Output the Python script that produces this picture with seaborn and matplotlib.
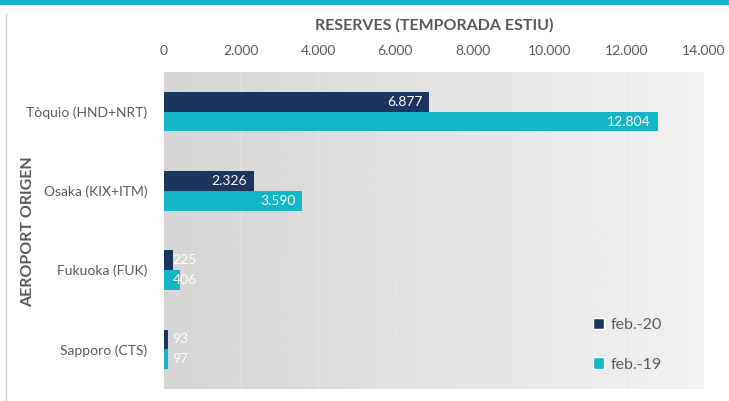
import numpy as np
import pandas as pd
import matplotlib
matplotlib.use("Agg")
import matplotlib.pyplot as plt
from matplotlib.patches import Rectangle, Patch
from matplotlib.lines import Line2D
import seaborn as sns

# data
airports = ["Tòquio (HND+NRT)", "Osaka (KIX+ITM)", "Fukuoka (FUK)", "Sapporo (CTS)"]
periods = ["feb.-20", "feb.-19"]
feb20 = [6877, 2326, 225, 93]
feb19 = [12804, 3590, 406, 97]
x_ticks = [0, 2000, 4000, 6000, 8000, 10000, 12000, 14000]

navy = "#1b365d"
teal = "#12b6c4"
grey_txt = "#595959"

df = pd.DataFrame({
    "aeroport": airports * 2,
    "periode": [periods[0]] * 4 + [periods[1]] * 4,
    "reserves": feb20 + feb19,
})

sns.set_style("white")
plt.rcParams["font.family"] = ["Lato", "DejaVu Sans"]

fig = plt.figure(figsize=(7.29, 4.01), dpi=100)
ax = fig.add_axes([164 / 729, 1 - 389 / 401, 540 / 729, 317 / 401])

# gradient background of the plot area
grad = np.linspace(0.835, 0.945, 256).reshape(1, -1)
ax.imshow(grad, cmap="gray", vmin=0, vmax=1, aspect="auto",
          extent=[0, 14000, 3.5, -0.5], zorder=0)

sns.barplot(data=df, x="reserves", y="aeroport", hue="periode", orient="h",
            palette=[navy, teal], width=0.5, saturation=1, linewidth=0,
            legend=False, ax=ax, zorder=3)

ax.set_xlim(0, 14000)
ax.set_ylim(3.5, -0.5)
ax.set_xticks(x_ticks)
ax.set_xticklabels([f"{v:,}".replace(",", ".") for v in x_ticks])
ax.xaxis.tick_top()
ax.xaxis.set_label_position("top")
ax.tick_params(axis="both", length=0, labelsize=10, colors=grey_txt)
ax.tick_params(axis="x", pad=11)
ax.tick_params(axis="y", pad=12)
for s in ax.spines.values():
    s.set_visible(False)
ax.grid(False)
for t in x_ticks[1:-1]:
    ax.axvline(t, color="#e6e6e6", lw=0.8, zorder=1)

ax.set_xlabel("RESERVES (TEMPORADA ESTIU)", fontsize=11.5, fontweight="bold",
              color=grey_txt, labelpad=11)
ax.set_ylabel("")
fig.text(28 / 729, 1 - 232 / 401, "AEROPORT ORIGEN", rotation=90, ha="center",
         va="center", fontsize=11.5, fontweight="bold", color=grey_txt)

# value labels
for cont in ax.containers:
    for bar in cont:
        v = bar.get_width()
        yc = bar.get_y() + bar.get_height() / 2
        txt = f"{int(round(v)):,}".replace(",", ".")
        if v > 1000:
            ax.annotate(txt, xy=(v, yc), xytext=(-5, 0), textcoords="offset points",
                        ha="right", va="center", color="white", fontsize=10, zorder=5)
        else:
            ax.annotate(txt, xy=(0, yc), xytext=(6, 0), textcoords="offset points",
                        ha="left", va="center", color="white", fontsize=10, zorder=5)

handles = [Patch(facecolor=navy, label=periods[0]), Patch(facecolor=teal, label=periods[1])]
ax.legend(handles=handles, loc="lower left", bbox_to_anchor=(0.78, 0.03),
          frameon=False, fontsize=11.5, labelcolor=grey_txt, handlelength=0.7,
          handleheight=0.7, handletextpad=0.4, labelspacing=1.6, borderpad=0)

# frame decorations
fig.patches.append(Rectangle((0, 1 - 5 / 401), 1, 5 / 401, transform=fig.transFigure,
                             facecolor=teal, edgecolor="none", zorder=10))
fig.lines.append(Line2D([6 / 729, 6 / 729], [0, 1 - 14 / 401], transform=fig.transFigure,
                        color="#d0d0d0", lw=1))

fig.savefig("out.png", dpi=100)
